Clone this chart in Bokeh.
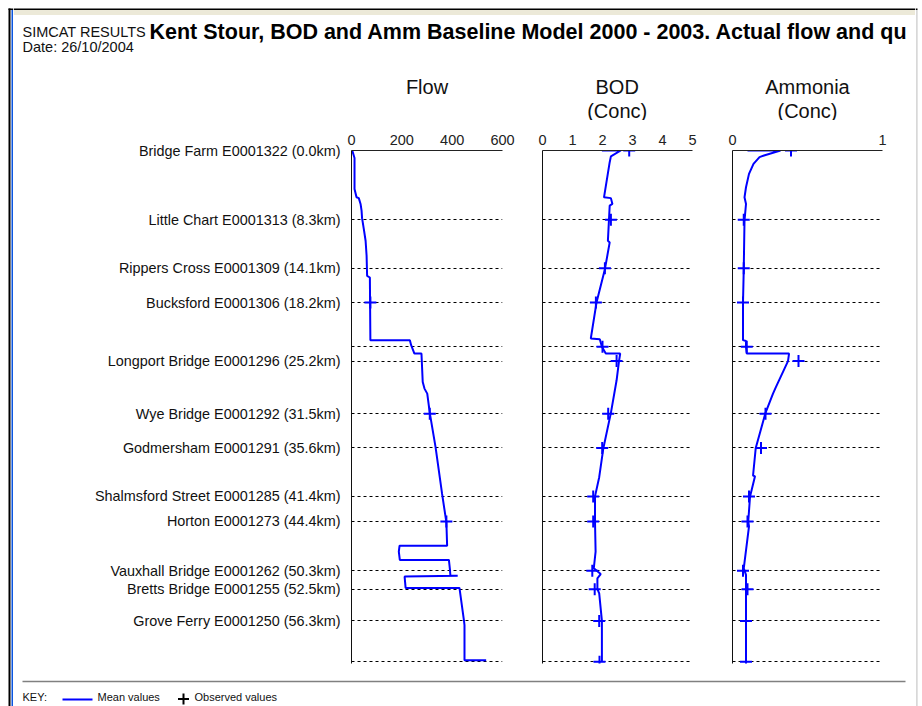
from bokeh.plotting import figure
from bokeh.layouts import row, column
from bokeh.models import Range1d, FixedTicker, Label
from bokeh.embed import file_html
from bokeh.resources import INLINE

FONT = "Liberation Sans"
BLUE = "#0000FF"

# ---------------- data ----------------
station_km = [0.0, 8.3, 14.1, 18.2, 25.2, 31.5, 35.6, 41.4, 44.4, 50.3, 52.5, 56.3]
station_names = [
    "Bridge Farm E0001322 (0.0km)",
    "Little Chart E0001313 (8.3km)",
    "Rippers Cross E0001309 (14.1km)",
    "Bucksford E0001306 (18.2km)",
    "Longport Bridge E0001296 (25.2km)",
    "Wye Bridge E0001292 (31.5km)",
    "Godmersham E0001291 (35.6km)",
    "Shalmsford Street E0001285 (41.4km)",
    "Horton E0001273 (44.4km)",
    "Vauxhall Bridge E0001262 (50.3km)",
    "Bretts Bridge E0001255 (52.5km)",
    "Grove Ferry E0001250 (56.3km)",
]
grid_km = [8.3, 14.1, 18.2, 23.5, 25.2, 31.5, 35.6, 41.4, 44.4, 50.3, 52.5, 56.3, 61.2]

flow_km = [0.0, 0.9, 4.6, 5.6, 5.7, 6.4, 7.2, 8.1, 9.4, 10.8, 12.6, 15.0, 15.2, 22.7, 22.7,
           23.3, 24.3, 24.3, 27.7, 28.5, 29.1, 31.4, 35.5, 41.1, 44.5, 47.3, 47.3, 48.0,
           49.0, 49.0, 50.1, 50.9, 50.9, 51.0, 52.35, 52.35, 56.3, 56.8, 61.0, 61.0]
flow_mean = [3, 12, 12, 20, 29, 36, 40, 42, 49, 56, 60, 62, 73, 75, 232,
             237, 250, 278, 283, 290, 301, 311, 334, 360, 377, 380, 191, 188,
             192, 387, 391, 393, 422, 211, 215, 429, 447, 449, 449, 535]
flow_obs_km = [18.2, 31.5, 44.4]
flow_obs = [75, 311, 377]

bod_km = [0.0, 0.0, 0.7, 1.4, 5.6, 5.7, 6.4, 6.6, 10.8, 11.0, 14.2, 18.2, 22.5, 22.6,
          23.5, 24.3, 24.3, 25.2, 27.5, 31.4, 35.6, 39.1, 41.4, 44.4, 48.0, 50.0,
          50.7, 51.2, 52.5, 53.0, 56.3, 61.2]
bod_mean = [1.98, 2.61, 2.28, 2.24, 2.05, 2.28, 2.33, 2.24, 2.18, 2.24, 2.08, 1.80, 1.61, 1.91,
            1.98, 2.11, 2.59, 2.55, 2.47, 2.28, 2.03, 1.89, 1.75, 1.75, 1.77, 1.71,
            1.94, 1.83, 1.83, 1.89, 1.98, 1.98]
obs_km = [0.0, 8.3, 14.1, 18.2, 23.5, 25.2, 31.5, 35.6, 41.4, 44.4, 50.3, 52.5, 56.3, 61.2]
bod_obs = [2.89, 2.28, 2.08, 1.78, 2.0, 2.47, 2.19, 1.99, 1.69, 1.69, 1.66, 1.74, 1.89, 1.9]

amm_km = [0.0, 0.0, 0.6, 0.8, 1.6, 2.8, 4.4, 5.6, 6.4, 8.4, 14.2, 18.2, 22.7, 22.8, 23.5,
          24.3, 24.3, 25.2, 28.3, 29.1, 31.4, 35.6, 38.9, 39.0, 41.4, 44.4, 45.0, 50.0,
          50.8, 52.5, 56.3, 61.2]
amm_mean = [0.10, 0.32, 0.21, 0.18, 0.14, 0.11, 0.09, 0.08, 0.09, 0.08, 0.075, 0.07, 0.07, 0.09, 0.09,
            0.095, 0.377, 0.37, 0.29, 0.27, 0.22, 0.155, 0.137, 0.15, 0.117, 0.105, 0.11, 0.075,
            0.09, 0.09, 0.09, 0.09]
amm_obs = [0.39, 0.075, 0.075, 0.07, 0.095, 0.44, 0.22, 0.19, 0.11, 0.10, 0.07, 0.10, 0.09, 0.09]

flow_ticks = [0, 200, 400, 600]
bod_ticks = [0, 1, 2, 3, 4, 5]
amm_ticks = [0, 1]

KM_MAX = 61.4


def panel(xmax, ticks, width, left, right, labels):
    p = figure(width=width, height=550, x_range=Range1d(0, xmax), y_range=Range1d(KM_MAX, 0),
               x_axis_location="above", output_backend="svg", toolbar_location=None,
               min_border_left=left, min_border_right=right, min_border_top=30,
               min_border_bottom=7)
    p.outline_line_color = None
    p.xgrid.visible = False
    p.ygrid.ticker = FixedTicker(ticks=grid_km)
    p.ygrid.grid_line_color = "#000000"
    p.ygrid.grid_line_dash = "3 3"
    p.ygrid.grid_line_width = 1
    xa = p.xaxis[0]
    xa.ticker = FixedTicker(ticks=ticks)
    xa.major_tick_out = 0
    xa.major_tick_in = 0
    xa.minor_tick_out = 0
    xa.minor_tick_in = 0
    xa.axis_line_color = "#222222"
    xa.major_label_text_font = FONT
    xa.major_label_text_font_size = "14.5px"
    xa.major_label_text_color = "#222222"
    xa.major_label_standoff = 6
    ya = p.yaxis[0]
    ya.major_tick_out = 0
    ya.major_tick_in = 0
    ya.minor_tick_out = 0
    ya.minor_tick_in = 0
    ya.axis_line_color = "#111111"
    if labels:
        ya.ticker = FixedTicker(ticks=station_km)
        ya.major_label_overrides = {k: n for k, n in zip(station_km, station_names)}
        ya.major_label_text_font = FONT
        ya.major_label_text_font_size = "14.4px"
        ya.major_label_text_color = "#111111"
        ya.major_label_standoff = 11
    else:
        ya.ticker = FixedTicker(ticks=[])
    return p


p_flow = panel(600, flow_ticks, 509, 338, 20, True)
p_flow.line(flow_mean, flow_km, line_color=BLUE, line_width=2)
p_flow.scatter(flow_obs, flow_obs_km, marker="cross", size=12, line_color=BLUE, line_width=2)

p_bod = panel(5, bod_ticks, 190, 20, 20, False)
p_bod.line(bod_mean, bod_km, line_color=BLUE, line_width=2)
p_bod.scatter(bod_obs, obs_km, marker="cross", size=12, line_color=BLUE, line_width=2)

p_amm = panel(1, amm_ticks, 203, 20, 33, False)
p_amm.line(amm_mean, amm_km, line_color=BLUE, line_width=2)
p_amm.scatter(amm_obs, obs_km, marker="cross", size=12, line_color=BLUE, line_width=2)


def canvas(width, height, x0, x1, y0, y1):
    c = figure(width=width, height=height, x_range=Range1d(x0, x1), y_range=Range1d(y1, y0),
               x_axis_type=None, y_axis_type=None, output_backend="svg",
               toolbar_location=None, min_border=0)
    c.outline_line_color = None
    c.grid.visible = False
    return c


# header (page pixel coordinates)
head = canvas(902, 120, 13, 915, 0, 120)
head.quad(left=[13], right=[915], top=[8], bottom=[9.6], fill_color="#000000", line_color=None)
head.quad(left=[13], right=[915], top=[9.6], bottom=[14.5], fill_color="#ECE9D8", line_color=None)
head.add_layout(Label(x=22, y=31, text="SIMCAT RESULTS", text_font=FONT, text_font_size="14.5px",
                      text_baseline="alphabetic", text_color="#111111"))
head.add_layout(Label(x=22, y=46, text="Date: 26/10/2004", text_font=FONT, text_font_size="14.5px",
                      text_baseline="alphabetic", text_color="#111111"))
head.add_layout(Label(x=149, y=31, text="Kent Stour, BOD and Amm Baseline Model 2000 - 2003. Actual flow and qu",
                      text_font=FONT, text_font_size="21.5px", text_font_style="bold",
                      text_baseline="alphabetic", text_color="#000000"))
for cx, lines in [(426.5, ["Flow"]), (616.7, ["BOD", "(Conc)"]), (807, ["Ammonia", "(Conc)"])]:
    for i, t in enumerate(lines):
        head.add_layout(Label(x=cx, y=86 + 24 * i, text=t, text_font=FONT, text_font_size="20px",
                              text_align="center", text_baseline="middle", text_color="#111111"))

# key
key = canvas(902, 36, 13, 915, 670, 706)
key.segment(x0=[22], x1=[905], y0=[681], y1=[681], line_color="#808080", line_width=1.5)
key.segment(x0=[62], x1=[92], y0=[699], y1=[699], line_color=BLUE, line_width=2)
key.scatter([183], [698.5], marker="cross", size=11, line_color="#000000", line_width=2)
for x, t in [(22, "KEY:"), (97, "Mean values"), (194, "Observed values")]:
    key.add_layout(Label(x=x, y=696, text=t, text_font=FONT, text_font_size="11px",
                         text_baseline="middle", text_color="#111111"))

# window edges
edge_l = canvas(13, 706, 0, 13, 0, 706)
edge_l.quad(left=[8], right=[10], top=[8], bottom=[706], fill_color="#000000", line_color=None)
edge_l.quad(left=[11], right=[12.6], top=[9.6], bottom=[706], fill_color="#0A55E0", line_color=None)
edge_l.quad(left=[8], right=[13], top=[8], bottom=[9.6], fill_color="#000000", line_color=None)

edge_r = canvas(7, 706, 915, 922, 0, 706)
edge_r.quad(left=[915], right=[917], top=[8], bottom=[9.6], fill_color="#000000", line_color=None)
edge_r.quad(left=[915.8], right=[917], top=[9.6], bottom=[706], fill_color="#C8C8C8", line_color=None)

layout = row(edge_l, column(head, row(p_flow, p_bod, p_amm), key), edge_r)

open("out.html", "w").write(file_html(layout, INLINE))
